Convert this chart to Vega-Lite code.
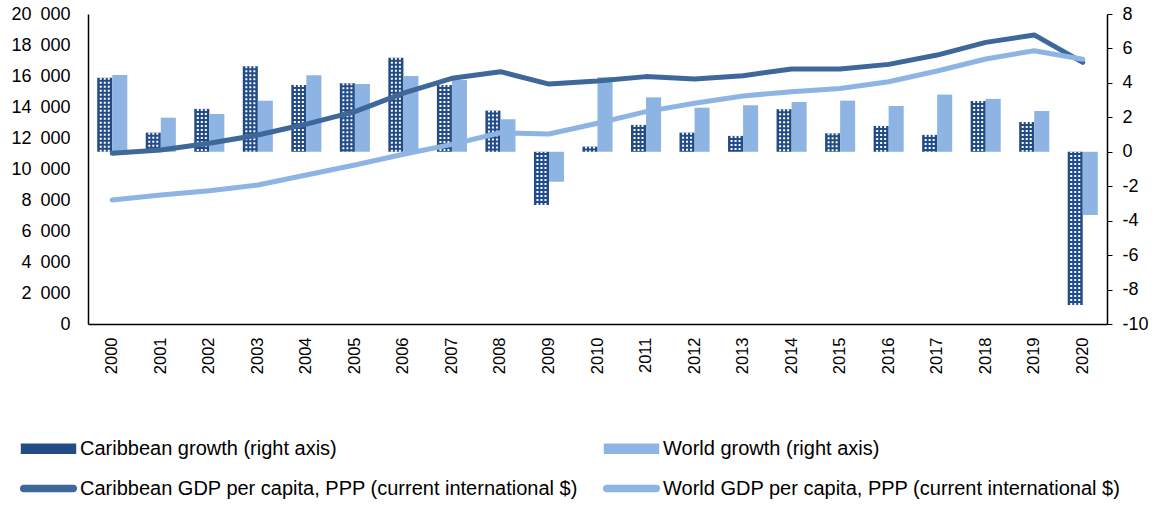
{
  "$schema": "https://vega.github.io/schema/vega-lite/v6.json",
  "width": 1019,
  "height": 310,
  "autosize": "none",
  "padding": {"left": 88, "top": 14, "right": 51, "bottom": 184},
  "background": "white",
  "config": {
    "view": {"stroke": null},
    "font": "Liberation Sans",
    "axis": {"labelFont": "Liberation Sans", "labelColor": "#000", "domainColor": "#000", "tickColor": "#000", "grid": false, "title": null, "labelOverlap": false},
    "axisY": {"labelOverlap": false},
    "axisRight": {"labelOverlap": false}
  },
  "datasets": {
    "growth": [
      {"year": 2000, "series": "Caribbean growth (right axis)", "value": 4.30},
      {"year": 2001, "series": "Caribbean growth (right axis)", "value": 1.11},
      {"year": 2002, "series": "Caribbean growth (right axis)", "value": 2.49},
      {"year": 2003, "series": "Caribbean growth (right axis)", "value": 4.96},
      {"year": 2004, "series": "Caribbean growth (right axis)", "value": 3.88},
      {"year": 2005, "series": "Caribbean growth (right axis)", "value": 3.98},
      {"year": 2006, "series": "Caribbean growth (right axis)", "value": 5.46},
      {"year": 2007, "series": "Caribbean growth (right axis)", "value": 3.88},
      {"year": 2008, "series": "Caribbean growth (right axis)", "value": 2.39},
      {"year": 2009, "series": "Caribbean growth (right axis)", "value": -3.09},
      {"year": 2010, "series": "Caribbean growth (right axis)", "value": 0.30},
      {"year": 2011, "series": "Caribbean growth (right axis)", "value": 1.56},
      {"year": 2012, "series": "Caribbean growth (right axis)", "value": 1.11},
      {"year": 2013, "series": "Caribbean growth (right axis)", "value": 0.92},
      {"year": 2014, "series": "Caribbean growth (right axis)", "value": 2.47},
      {"year": 2015, "series": "Caribbean growth (right axis)", "value": 1.07},
      {"year": 2016, "series": "Caribbean growth (right axis)", "value": 1.50},
      {"year": 2017, "series": "Caribbean growth (right axis)", "value": 0.98},
      {"year": 2018, "series": "Caribbean growth (right axis)", "value": 2.95},
      {"year": 2019, "series": "Caribbean growth (right axis)", "value": 1.73},
      {"year": 2020, "series": "Caribbean growth (right axis)", "value": -8.90},
      {"year": 2000, "series": "World growth (right axis)", "value": 4.46},
      {"year": 2001, "series": "World growth (right axis)", "value": 1.98},
      {"year": 2002, "series": "World growth (right axis)", "value": 2.20},
      {"year": 2003, "series": "World growth (right axis)", "value": 2.97},
      {"year": 2004, "series": "World growth (right axis)", "value": 4.44},
      {"year": 2005, "series": "World growth (right axis)", "value": 3.94},
      {"year": 2006, "series": "World growth (right axis)", "value": 4.40},
      {"year": 2007, "series": "World growth (right axis)", "value": 4.17},
      {"year": 2008, "series": "World growth (right axis)", "value": 1.89},
      {"year": 2009, "series": "World growth (right axis)", "value": -1.74},
      {"year": 2010, "series": "World growth (right axis)", "value": 4.33},
      {"year": 2011, "series": "World growth (right axis)", "value": 3.16},
      {"year": 2012, "series": "World growth (right axis)", "value": 2.56},
      {"year": 2013, "series": "World growth (right axis)", "value": 2.70},
      {"year": 2014, "series": "World growth (right axis)", "value": 2.89},
      {"year": 2015, "series": "World growth (right axis)", "value": 2.97},
      {"year": 2016, "series": "World growth (right axis)", "value": 2.66},
      {"year": 2017, "series": "World growth (right axis)", "value": 3.32},
      {"year": 2018, "series": "World growth (right axis)", "value": 3.07},
      {"year": 2019, "series": "World growth (right axis)", "value": 2.37},
      {"year": 2020, "series": "World growth (right axis)", "value": -3.67}
    ],
    "gdp": [
      {"year": 2000, "series": "Caribbean GDP per capita, PPP (current international $)", "value": 11013},
      {"year": 2001, "series": "Caribbean GDP per capita, PPP (current international $)", "value": 11230},
      {"year": 2002, "series": "Caribbean GDP per capita, PPP (current international $)", "value": 11660},
      {"year": 2003, "series": "Caribbean GDP per capita, PPP (current international $)", "value": 12190},
      {"year": 2004, "series": "Caribbean GDP per capita, PPP (current international $)", "value": 12900},
      {"year": 2005, "series": "Caribbean GDP per capita, PPP (current international $)", "value": 13700},
      {"year": 2006, "series": "Caribbean GDP per capita, PPP (current international $)", "value": 14900},
      {"year": 2007, "series": "Caribbean GDP per capita, PPP (current international $)", "value": 15850},
      {"year": 2008, "series": "Caribbean GDP per capita, PPP (current international $)", "value": 16280},
      {"year": 2009, "series": "Caribbean GDP per capita, PPP (current international $)", "value": 15480},
      {"year": 2010, "series": "Caribbean GDP per capita, PPP (current international $)", "value": 15680},
      {"year": 2011, "series": "Caribbean GDP per capita, PPP (current international $)", "value": 15960},
      {"year": 2012, "series": "Caribbean GDP per capita, PPP (current international $)", "value": 15810},
      {"year": 2013, "series": "Caribbean GDP per capita, PPP (current international $)", "value": 16020},
      {"year": 2014, "series": "Caribbean GDP per capita, PPP (current international $)", "value": 16450},
      {"year": 2015, "series": "Caribbean GDP per capita, PPP (current international $)", "value": 16450},
      {"year": 2016, "series": "Caribbean GDP per capita, PPP (current international $)", "value": 16750},
      {"year": 2017, "series": "Caribbean GDP per capita, PPP (current international $)", "value": 17350},
      {"year": 2018, "series": "Caribbean GDP per capita, PPP (current international $)", "value": 18170},
      {"year": 2019, "series": "Caribbean GDP per capita, PPP (current international $)", "value": 18650},
      {"year": 2020, "series": "Caribbean GDP per capita, PPP (current international $)", "value": 16880},
      {"year": 2000, "series": "World GDP per capita, PPP (current international $)", "value": 8000},
      {"year": 2001, "series": "World GDP per capita, PPP (current international $)", "value": 8320},
      {"year": 2002, "series": "World GDP per capita, PPP (current international $)", "value": 8600},
      {"year": 2003, "series": "World GDP per capita, PPP (current international $)", "value": 8970},
      {"year": 2004, "series": "World GDP per capita, PPP (current international $)", "value": 9610},
      {"year": 2005, "series": "World GDP per capita, PPP (current international $)", "value": 10260},
      {"year": 2006, "series": "World GDP per capita, PPP (current international $)", "value": 10950},
      {"year": 2007, "series": "World GDP per capita, PPP (current international $)", "value": 11590},
      {"year": 2008, "series": "World GDP per capita, PPP (current international $)", "value": 12340},
      {"year": 2009, "series": "World GDP per capita, PPP (current international $)", "value": 12260},
      {"year": 2010, "series": "World GDP per capita, PPP (current international $)", "value": 12950},
      {"year": 2011, "series": "World GDP per capita, PPP (current international $)", "value": 13700},
      {"year": 2012, "series": "World GDP per capita, PPP (current international $)", "value": 14240},
      {"year": 2013, "series": "World GDP per capita, PPP (current international $)", "value": 14710},
      {"year": 2014, "series": "World GDP per capita, PPP (current international $)", "value": 14990},
      {"year": 2015, "series": "World GDP per capita, PPP (current international $)", "value": 15200},
      {"year": 2016, "series": "World GDP per capita, PPP (current international $)", "value": 15630},
      {"year": 2017, "series": "World GDP per capita, PPP (current international $)", "value": 16320},
      {"year": 2018, "series": "World GDP per capita, PPP (current international $)", "value": 17100},
      {"year": 2019, "series": "World GDP per capita, PPP (current international $)", "value": 17630},
      {"year": 2020, "series": "World GDP per capita, PPP (current international $)", "value": 17080}
    ]
  },
  "resolve": {"scale": {"y": "independent"}, "axis": {"y": "independent"}},
  "layer": [
    {
      "data": {"name": "growth"},
      "encoding": {
        "x": {"field": "year", "type": "ordinal", "scale": {"paddingInner": 0.38, "paddingOuter": 0.19},
          "axis": {"orient": "bottom", "labelAngle": -90, "labelFontSize": 16.5, "ticks": false, "labelPadding": 13, "domainWidth": 1.5}},
        "y": {"field": "value", "type": "quantitative",
          "scale": {"domain": [-10, 8], "nice": false, "zero": false},
          "axis": {"orient": "right", "values": [-10, -8, -6, -4, -2, 0, 2, 4, 6, 8], "labelFontSize": 18, "tickSize": 5, "labelPadding": 10, "domainWidth": 1.5, "labelOverlap": false,
            "labelExpr": "'' + datum.value"}}
      },
      "layer": [
        {
          "mark": {"type": "bar"},
          "encoding": {
            "xOffset": {"field": "series", "type": "nominal", "sort": ["Caribbean growth (right axis)", "World growth (right axis)"]},
            "color": {"field": "series", "type": "nominal",
              "scale": {
                "domain": ["Caribbean growth (right axis)", "World growth (right axis)", "Caribbean GDP per capita, PPP (current international $)", "World GDP per capita, PPP (current international $)"],
                "range": ["#234C86", "#8DB4E2", "#3E6899", "#8DB4E2"]
              },
              "legend": {
                "orient": "none", "legendX": -68, "legendY": 406, "direction": "horizontal", "columns": 2,
                "title": null, "labelFont": "Liberation Sans", "labelFontSize": 20, "labelColor": "#000",
                "symbolSize": 3025, "labelOffset": 3, "rowPadding": 1, "columnPadding": 21,
                "labelLimit": 800,
                "encode": {
                  "symbols": {"update": {
                    "shape": {"signal": "indexof(datum.value, 'growth') >= 0 ? 'M-0.98,-0.165H0.98V0.165H-0.98Z' : 'M-0.9,-0.11H0.9A0.11,0.11 0 0 1 0.9,0.11H-0.9A0.11,0.11 0 0 1 -0.9,-0.11Z'"},
                    "fill": {"signal": "datum.value == 'Caribbean growth (right axis)' ? '#234C86' : (datum.value == 'Caribbean GDP per capita, PPP (current international $)' ? '#3E6899' : '#8DB4E2')"},
                    "stroke": {"value": "transparent"},
                    "opacity": {"value": 1}
                  }}
                }
              }
            }
          }
        },
        {
          "transform": [{"filter": "datum.series == 'Caribbean growth (right axis)'"}],
          "mark": {"type": "rule", "color": "white", "strokeWidth": 2, "strokeDash": [2, 2], "xOffset": -11.5},
          "encoding": {"y2": {"datum": 0}}
        },
        {
          "transform": [{"filter": "datum.series == 'Caribbean growth (right axis)'"}],
          "mark": {"type": "rule", "color": "white", "strokeWidth": 2, "strokeDash": [2, 2], "xOffset": -7.5},
          "encoding": {"y2": {"datum": 0}}
        },
        {
          "transform": [{"filter": "datum.series == 'Caribbean growth (right axis)'"}],
          "mark": {"type": "rule", "color": "white", "strokeWidth": 2, "strokeDash": [2, 2], "xOffset": -3.5},
          "encoding": {"y2": {"datum": 0}}
        }
      ]
    },
    {
      "data": {"name": "gdp"},
      "mark": {"type": "line", "strokeWidth": 5, "strokeCap": "round", "strokeJoin": "round"},
      "encoding": {
        "x": {"field": "year", "type": "ordinal"},
        "y": {"field": "value", "type": "quantitative",
          "scale": {"domain": [0, 20000], "nice": false},
          "axis": {"orient": "left", "values": [0, 2000, 4000, 6000, 8000, 10000, 12000, 14000, 16000, 18000, 20000], "labelFontSize": 18, "ticks": false, "labelPadding": 18, "domainWidth": 1.5, "labelOverlap": false,
            "labelExpr": "replace(format(datum.value, ','), ',', '\u2002')"}},
        "color": {"field": "series", "type": "nominal"}
      }
    }
  ]
}
